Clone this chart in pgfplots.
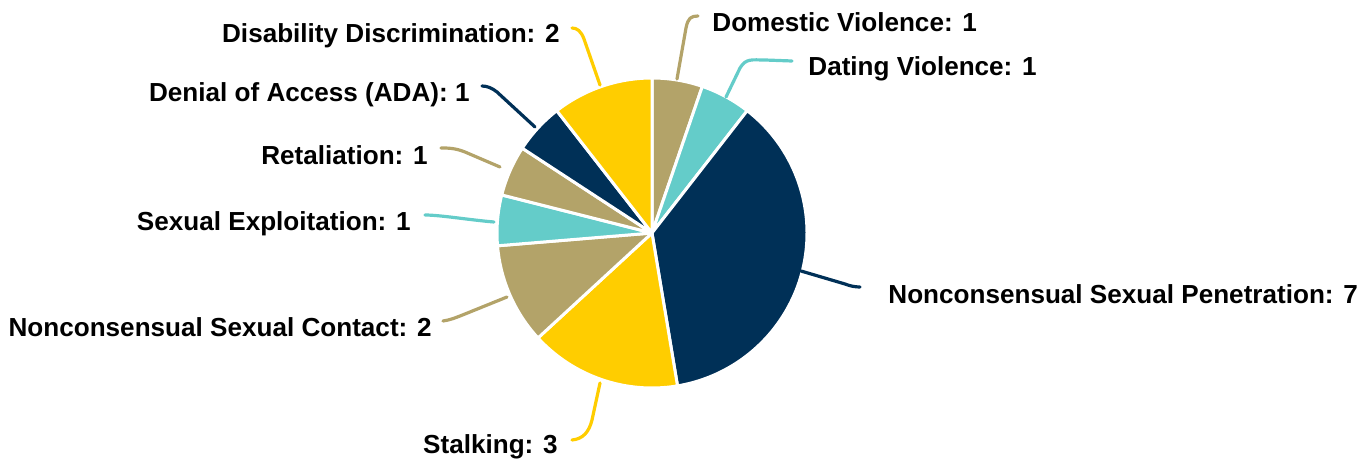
\documentclass[border=0pt]{standalone}
\usepackage{pgfplots}
\usepackage{pgfplotstable}
\pgfplotsset{compat=1.18}
\usepackage{fontspec}
\setmainfont{Liberation Sans}
\definecolor{tan}{HTML}{B3A369}
\definecolor{navy}{HTML}{003057}
\definecolor{gold}{HTML}{FFCD00}
\definecolor{teal}{HTML}{64CCC9}
\colorlet{c0}{tan}
\colorlet{c1}{teal}
\colorlet{c2}{navy}
\colorlet{c3}{gold}
\colorlet{c4}{tan}
\colorlet{c5}{teal}
\colorlet{c6}{tan}
\colorlet{c7}{navy}
\colorlet{c8}{gold}
\pgfplotstableread[col sep=comma]{
label,value
Domestic Violence,1
Dating Violence,1
Nonconsensual Sexual Penetration,7
Stalking,3
Nonconsensual Sexual Contact,2
Sexual Exploitation,1
Retaliation,1
Denial of Access (ADA),1
Disability Discrimination,2
}\piedata
\def\cum{0}
\pgfplotsforeachungrouped \i in {0,...,8}{%
  \pgfplotstablegetelem{\i}{value}\of\piedata
  \let\v\pgfplotsretval
  \pgfmathsetmacro{\newcum}{\cum+\v}%
  \expandafter\xdef\csname cs\i\endcsname{\cum}%
  \expandafter\xdef\csname ce\i\endcsname{\newcum}%
  \xdef\cum{\newcum}%
}
\def\cx{652}
\def\cy{233}
\def\rr{155}
\begin{document}
\begin{tikzpicture}
\begin{axis}[x=0.5pt, y=0.5pt, xmin=0, xmax=1372, ymin=0, ymax=460,
  y dir=reverse, hide axis, scale only axis, clip=false]
\path (rel axis cs:0,0) rectangle (rel axis cs:1,1);
\pgfplotsinvokeforeach{0,...,8}{
  \fill[fill=c#1, draw=white, line width=1.5pt, line join=round]
    (axis cs:\cx,\cy) --
    (axis cs:{\cx+\rr*cos(90-360*\csname cs#1\endcsname/\cum)},{\cy-\rr*sin(90-360*\csname cs#1\endcsname/\cum)})
    arc[start angle={90-360*\csname cs#1\endcsname/\cum}, end angle={90-360*\csname ce#1\endcsname/\cum}, radius=77.5pt]
    -- cycle;
}
\tikzset{lead/.style={line width=1.6pt, line cap=round}}
\draw[lead, tan]  (axis cs:677,79) -- (axis cs:686,28) .. controls (axis cs:688,18) and (axis cs:691,16) .. (axis cs:698,16);
\draw[lead, teal] (axis cs:726,97) -- (axis cs:740,68) .. controls (axis cs:746,58) and (axis cs:752,60) .. (axis cs:765,60) -- (axis cs:792,61);
\draw[lead, navy] (axis cs:801,271) -- (axis cs:845,284) .. controls (axis cs:850,286) and (axis cs:855,287) .. (axis cs:860,287);
\draw[lead, gold] (axis cs:600,383) -- (axis cs:592,420) .. controls (axis cs:589,432) and (axis cs:583,439) .. (axis cs:572,440);
\draw[lead, tan]  (axis cs:507,297) -- (axis cs:465,314) .. controls (axis cs:455,318) and (axis cs:450,320) .. (axis cs:443,321);
\draw[lead, teal] (axis cs:494,222) .. controls (axis cs:470,220) and (axis cs:440,215) .. (axis cs:425,215);
\draw[lead, tan]  (axis cs:500,167) -- (axis cs:465,152) .. controls (axis cs:455,148) and (axis cs:448,148) .. (axis cs:441,148);
\draw[lead, navy] (axis cs:535,127) -- (axis cs:497,92) .. controls (axis cs:492,88) and (axis cs:487,86) .. (axis cs:482,86);
\draw[lead, gold] (axis cs:600,85) -- (axis cs:584,39) .. controls (axis cs:581,31) and (axis cs:577,28) .. (axis cs:572,28);
\tikzset{lab/.style={inner sep=0pt, font=\fontsize{13.05}{15}\selectfont\bfseries, text=black}}
\node[lab, anchor=base west] at (axis cs:712,32) {Domestic Violence: 1};
\node[lab, anchor=base west] at (axis cs:808,76) {Dating Violence: 1};
\node[lab, anchor=base west] at (axis cs:888,303) {Nonconsensual Sexual Penetration: 7};
\node[lab, anchor=base east] at (axis cs:558,453) {Stalking: 3};
\node[lab, anchor=base east] at (axis cs:432,336) {Nonconsensual Sexual Contact: 2};
\node[lab, anchor=base east] at (axis cs:411,230.5) {Sexual Exploitation: 1};
\node[lab, anchor=base east] at (axis cs:428,164) {Retaliation: 1};
\node[lab, anchor=base east] at (axis cs:470,101.5) {Denial of Access (ADA): 1};
\node[lab, anchor=base east] at (axis cs:560,42.5) {Disability Discrimination: 2};
\end{axis}
\end{tikzpicture}
\end{document}
